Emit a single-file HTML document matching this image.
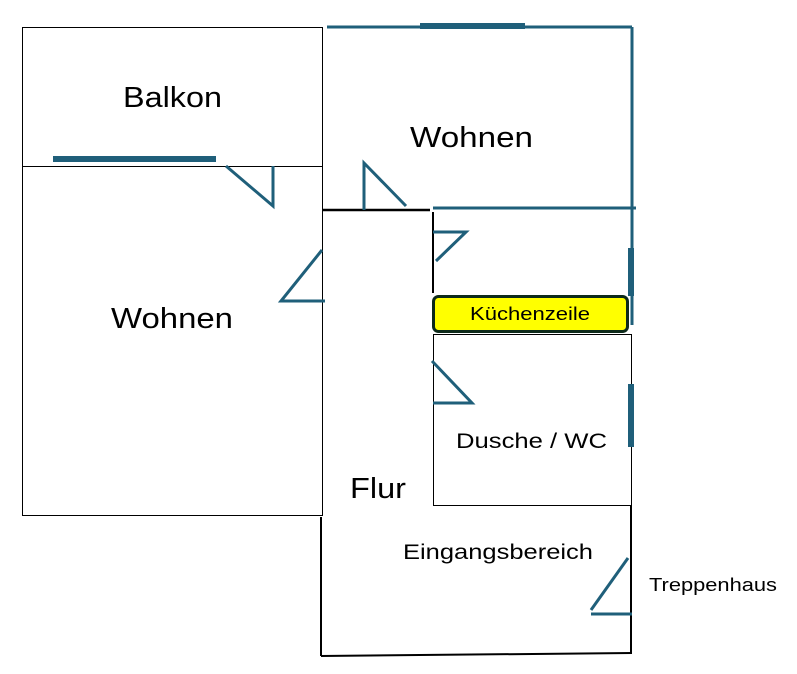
<!DOCTYPE html>
<html><head><meta charset="utf-8"><style>
html,body{margin:0;padding:0;background:#fff;}
svg{display:block;}
text{font-family:"Liberation Sans",sans-serif;fill:#000;}
</style></head><body>
<svg width="797" height="674" viewBox="0 0 797 674" xmlns="http://www.w3.org/2000/svg">
<g fill="none" stroke="#000" stroke-width="1">
<rect x="22.5" y="27.5" width="300" height="139"/>
<rect x="22.5" y="166.5" width="300" height="349"/>
<rect x="433.5" y="334.5" width="198" height="171"/>
</g>
<g stroke="#000" fill="none">
<line x1="322" y1="210" x2="430" y2="210" stroke-width="2.5"/>
<line x1="433" y1="212" x2="433" y2="293" stroke-width="2"/>
<line x1="321" y1="517" x2="321" y2="656" stroke-width="2"/>
<line x1="321" y1="656" x2="632" y2="653" stroke-width="2"/>
<line x1="631" y1="505" x2="631" y2="654" stroke-width="2"/>
</g>
<g stroke="#1f5f7a" stroke-width="3" fill="none">
<line x1="327" y1="27" x2="632" y2="27"/>
<line x1="632" y1="27" x2="632" y2="325"/>
<line x1="433" y1="208" x2="636" y2="208"/>
<polyline points="226,166 273,206 273,166"/>
<polyline points="406,206 364,163 364,210"/>
<polyline points="433,232 466,232 436,261"/>
<polyline points="322,250 281,301 325,301"/>
<polyline points="432,361 472,403 433,403"/>
<polyline points="628,558 591,610"/>
<line x1="591" y1="614" x2="632" y2="614"/>
</g>
<g fill="#1f5f7a">
<rect x="53" y="156" width="163" height="6"/>
<rect x="420" y="23" width="105" height="6"/>
<rect x="628" y="248" width="6" height="48"/>
<rect x="628" y="384" width="6" height="63"/>
</g>
<rect x="433.5" y="296.5" width="194" height="35" rx="5" fill="#ffff00" stroke="#0d2a1a" stroke-width="3"/>
<g lengthAdjust="spacingAndGlyphs">
<text x="123" y="107" font-size="29" textLength="99" lengthAdjust="spacingAndGlyphs">Balkon</text>
<text x="410" y="147" font-size="29" textLength="123" lengthAdjust="spacingAndGlyphs">Wohnen</text>
<text x="111" y="328" font-size="29" textLength="122" lengthAdjust="spacingAndGlyphs">Wohnen</text>
<text x="350" y="498" font-size="29" textLength="56" lengthAdjust="spacingAndGlyphs">Flur</text>
<text x="470" y="320" font-size="18" textLength="120" lengthAdjust="spacingAndGlyphs">Küchenzeile</text>
<text x="456" y="448" font-size="21" textLength="151" lengthAdjust="spacingAndGlyphs">Dusche / WC</text>
<text x="403" y="559" font-size="21" textLength="190" lengthAdjust="spacingAndGlyphs">Eingangsbereich</text>
<text x="649" y="591" font-size="18" textLength="128" lengthAdjust="spacingAndGlyphs">Treppenhaus</text>
</g>
</svg>
</body></html>
